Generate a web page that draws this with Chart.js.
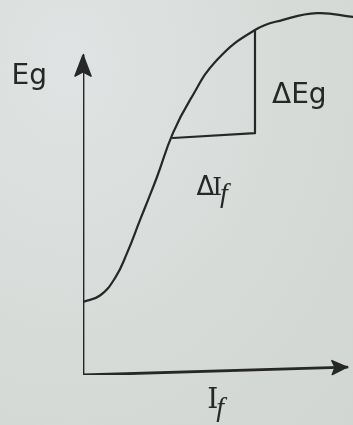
<!DOCTYPE html>
<html>
<head>
<meta charset="utf-8">
<script src="https://cdn.jsdelivr.net/npm/chart.js@4/dist/chart.umd.min.js"></script>
<style>
  html, body { margin: 0; padding: 0; background: #d8dcd9; }
  #wrap { width: 353px; height: 425px; background: radial-gradient(ellipse at 20% 15%, #dfe3e3 0%, #d7dbd8 55%, #d2d6d2 100%); }
</style>
</head>
<body>
<div id="wrap"><canvas id="c" width="353" height="425"></canvas></div>
<script>
// Magnetisation (open-circuit) characteristic: generated EMF Eg against field current If
const fieldCurrent = [0, 0.63, 1.19, 1.63, 2.11, 2.41, 2.74, 3.33, 3.96, 4.96, 6.37, 7.41, 8.67, 10];
const generatedEmf = [1.95, 2.12, 2.59, 3.25, 4.13, 4.67, 5.28, 6.45, 7.33, 8.40, 9.20, 9.47, 9.65, 9.55];

// Slope triangle (ΔIf along the bottom, ΔEg up the side)
const slopeIf = [3.33, 6.37, 6.37];
const slopeEg = [6.32, 6.45, 9.20];

// Axes drawn as arrows from the origin
const yAxisIf = [0, 0];
const yAxisEg = [0, 8.53];
const xAxisIf = [0, 9.78];
const xAxisEg = [0, 0.21];

const ink = '#262726';

const toPoints = (xs, ys) => xs.map((x, i) => ({ x, y: ys[i] }));

// Text labels anchored in data coordinates
const labels = [
  { parts: [{ t: 'Eg', font: '28px "DejaVu Sans"', dy: 0 }], x: -2.65, y: 7.75 },
  { parts: [{ t: 'ΔEg', font: '28px "DejaVu Sans"', dy: 0 }], x: 7.0, y: 7.25 },
  { parts: [{ t: 'Δ', font: '26px "DejaVu Sans"', dy: 0 }, { t: 'I', font: '25px "DejaVu Serif"', dy: 0 }, { t: 'f', font: 'italic 28px "Liberation Serif"', dy: 7 }], x: 4.2, y: 4.8 },
  { parts: [{ t: 'I', font: '28px "DejaVu Serif"', dy: 0 }, { t: 'f', font: 'italic 28px "Liberation Serif"', dy: 8 }], x: 4.6, y: -0.88 }
];

const arrowHeads = {
  id: 'arrowHeads',
  afterDatasetsDraw(chart) {
    const ctx = chart.ctx;
    const xs = chart.scales.x, ys = chart.scales.y;
    chart.data.datasets.forEach(ds => {
      if (!ds.arrow) return;
      const n = ds.data.length;
      const a = ds.data[n - 2], b = ds.data[n - 1];
      const x1 = xs.getPixelForValue(a.x), y1 = ys.getPixelForValue(a.y);
      const x2 = xs.getPixelForValue(b.x), y2 = ys.getPixelForValue(b.y);
      const ang = Math.atan2(y2 - y1, x2 - x1);
      const len = ds.arrow.len, hw = ds.arrow.half;
      ctx.save();
      ctx.translate(x2, y2);
      ctx.rotate(ang);
      ctx.beginPath();
      ctx.moveTo(0, 0);
      ctx.lineTo(-len, -hw);
      ctx.lineTo(-len * 0.8, 0);
      ctx.lineTo(-len, hw);
      ctx.closePath();
      ctx.fillStyle = ink;
      ctx.strokeStyle = ink;
      ctx.lineJoin = 'round';
      ctx.lineWidth = 1.5;
      ctx.fill();
      ctx.stroke();
      ctx.restore();
    });
  }
};

const textLabels = {
  id: 'textLabels',
  afterDraw(chart) {
    const ctx = chart.ctx;
    const xs = chart.scales.x, ys = chart.scales.y;
    ctx.save();
    ctx.fillStyle = ink;
    ctx.textBaseline = 'alphabetic';
    ctx.textAlign = 'left';
    labels.forEach(l => {
      let px = xs.getPixelForValue(l.x);
      const py = ys.getPixelForValue(l.y);
      l.parts.forEach(p => {
        ctx.font = p.font;
        ctx.fillText(p.t, px, py + p.dy);
        px += ctx.measureText(p.t).width - 2;
      });
    });
    ctx.restore();
  }
};

new Chart(document.getElementById('c'), {
  type: 'scatter',
  data: {
    datasets: [
      {
        label: 'Eg',
        data: toPoints(fieldCurrent, generatedEmf),
        showLine: true,
        borderColor: ink,
        borderWidth: 2.2,
        pointRadius: 0,
        tension: 0.45
      },
      {
        label: 'slope',
        data: toPoints(slopeIf, slopeEg),
        showLine: true,
        borderColor: ink,
        borderWidth: 2.2,
        pointRadius: 0,
        tension: 0
      },
      {
        label: 'Eg axis',
        data: toPoints(yAxisIf, yAxisEg),
        showLine: true,
        borderColor: ink,
        borderWidth: 2.8,
        pointRadius: 0,
        arrow: { len: 21, half: 8 }
      },
      {
        label: 'If axis',
        data: toPoints(xAxisIf, xAxisEg),
        showLine: true,
        borderColor: ink,
        borderWidth: 2.8,
        pointRadius: 0,
        arrow: { len: 15, half: 7 }
      }
    ]
  },
  options: {
    responsive: false,
    animation: false,
    layout: { padding: { left: 83, right: 0, top: 0, bottom: 50 } },
    plugins: { legend: { display: false }, tooltip: { enabled: false } },
    scales: {
      x: { type: 'linear', min: 0, max: 10, display: false },
      y: { type: 'linear', min: 0, max: 10, display: false }
    },
    elements: { line: { borderCapStyle: 'round', borderJoinStyle: 'round' } }
  },
  plugins: [arrowHeads, textLabels]
});
</script>
</body>
</html>
